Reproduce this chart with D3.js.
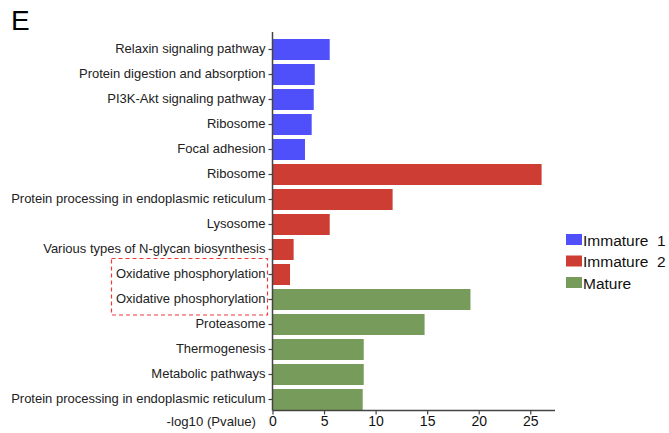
<!DOCTYPE html>
<html>
<head>
<meta charset="utf-8">
<script src="https://cdn.jsdelivr.net/npm/d3@7"></script>
<style>
  html, body { margin: 0; padding: 0; background: #fff; }
  svg { display: block; font-family: "Liberation Sans", Arial, sans-serif; }
</style>
</head>
<body>
<svg id="chart" width="669" height="433"></svg>
<script>
// KEGG pathway enrichment, top to bottom
const pathways = [
  "Relaxin signaling pathway",
  "Protein digestion and absorption",
  "PI3K-Akt signaling pathway",
  "Ribosome",
  "Focal adhesion",
  "Ribosome",
  "Protein processing in endoplasmic reticulum",
  "Lysosome",
  "Various types of N-glycan biosynthesis",
  "Oxidative phosphorylation",
  "Oxidative phosphorylation",
  "Proteasome",
  "Thermogenesis",
  "Metabolic pathways",
  "Protein processing in endoplasmic reticulum"
];
const groups = [
  "Immature  1", "Immature  1", "Immature  1", "Immature  1", "Immature  1",
  "Immature  2", "Immature  2", "Immature  2", "Immature  2", "Immature  2",
  "Mature", "Mature", "Mature", "Mature", "Mature"
];
const negLog10P = [5.55, 4.1, 4.0, 3.8, 3.15, 26.1, 11.65, 5.55, 2.05, 1.7, 19.2, 14.75, 8.85, 8.85, 8.75];
const groupNames = ["Immature  1", "Immature  2", "Mature"];
const groupColors = ["#5050fb", "#cd3d33", "#779b5a"];
const xTicks = [0, 5, 10, 15, 20, 25];

const rows = pathways.map((p, i) => ({ idx: i, name: p, group: groups[i], value: negLog10P[i] }));

const svg = d3.select("#chart");
const plotLeft = 272.5, plotRight = 555, plotTop = 37, plotBottom = 412;
const fontFam = "Liberation Sans, Arial, sans-serif";

const x = d3.scaleLinear().domain([0, 27.4]).range([plotLeft, plotRight]);
const y = d3.scaleBand().domain(rows.map(d => d.idx)).range([plotTop, plotBottom])
  .paddingInner(0.16).paddingOuter(0.08);
const color = d3.scaleOrdinal().domain(groupNames).range(groupColors);

// panel letter
svg.append("text").attr("x", 11).attr("y", 30)
  .attr("font-size", 28).attr("fill", "#000").text("E");

// bars
svg.append("g").selectAll("rect").data(rows).join("rect")
  .attr("x", x(0))
  .attr("y", d => y(d.idx))
  .attr("width", d => x(d.value) - x(0))
  .attr("height", y.bandwidth())
  .attr("fill", d => color(d.group));

// y axis with pathway names
const yAxis = d3.axisLeft(y).tickSize(4).tickPadding(3)
  .tickFormat(i => pathways[i]);
const gy = svg.append("g").attr("transform", `translate(${plotLeft},0)`).call(yAxis);
gy.select(".domain").attr("d", `M0,32V410.5`).attr("stroke", "#444").attr("stroke-width", 1.5);
gy.selectAll(".tick line").attr("stroke", "#444").attr("stroke-width", 1.2);
gy.selectAll(".tick text").attr("font-size", 13).attr("fill", "#222")
  .attr("font-family", fontFam).attr("dy", "0.25em");

// x axis
const xAxis = d3.axisBottom(x).tickValues(xTicks).tickSize(4).tickPadding(2);
const gx = svg.append("g").attr("transform", "translate(0,410.5)").call(xAxis);
gx.select(".domain").attr("d", `M${plotLeft},0H${plotRight}`).attr("stroke", "#444").attr("stroke-width", 1.5);
gx.selectAll(".tick line").attr("stroke", "#444").attr("stroke-width", 1.2);
gx.selectAll(".tick text").attr("font-size", 14).attr("fill", "#111")
  .attr("font-family", fontFam);

// x axis title
svg.append("text").attr("x", 256).attr("y", 426)
  .attr("text-anchor", "end").attr("font-size", 13.2).attr("fill", "#222")
  .text("-log10 (Pvalue)");

// dashed box highlighting the shared pathway
svg.append("rect")
  .attr("x", 111.5).attr("y", y(9) - 5.5)
  .attr("width", 156).attr("height", (y(10) + y.bandwidth() + 5) - (y(9) - 5.5))
  .attr("fill", "none").attr("stroke", "#f03a3a").attr("stroke-width", 1.2)
  .attr("stroke-dasharray", "4,3");

// legend
const legend = svg.append("g").attr("transform", "translate(566,234)");
const items = legend.selectAll("g").data(groupNames).join("g")
  .attr("transform", (d, i) => `translate(0,${i * 21.5})`);
items.append("rect").attr("width", 16).attr("height", 11).attr("fill", d => color(d));
items.append("text").attr("x", 17).attr("y", 11.5)
  .attr("font-size", 15.5).attr("fill", "#111")
  .style("white-space", "pre").text(d => d);
</script>
</body>
</html>
